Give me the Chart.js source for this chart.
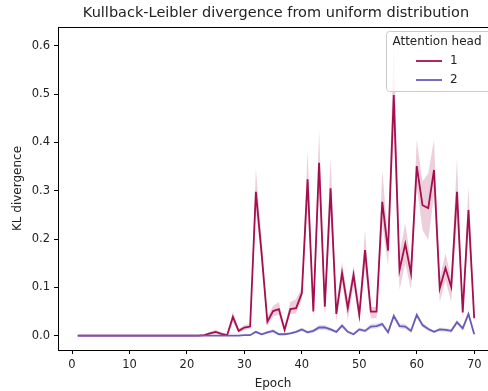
<!DOCTYPE html>
<html>
<head>
<meta charset="utf-8">
<script src="https://cdn.jsdelivr.net/npm/chart.js@4"></script>
<style>
  html, body { margin: 0; padding: 0; background: #fff; }
  #wrap { width: 488px; height: 391px; }
</style>
</head>
<body>
<div id="wrap"><canvas id="klChart" width="488" height="391"></canvas></div>
<script>
const epochs = [1,2,3,4,5,6,7,8,9,10,11,12,13,14,15,16,17,18,19,20,21,22,23,24,25,26,27,28,29,30,31,32,33,34,35,36,37,38,39,40,41,42,43,44,45,46,47,48,49,50,51,52,53,54,55,56,57,58,59,60,61,62,63,64,65,66,67,68,69,70];

const heads = ['1', '2'];

const head1Mean = [0,0,0,0,0,0,0,0,0,0, 0,0,0,0,0,0,0,0,0,0,
  0,0,0.001,0.005,0.008,0.004,0.001,0.039,0.010,0.017,
  0.019,0.298,0.170,0.029,0.051,0.055,0.012,0.055,0.057,0.088,
  0.324,0.050,0.358,0.060,0.305,0.045,0.130,0.057,0.126,0.043,
  0.177,0.050,0.050,0.277,0.176,0.498,0.136,0.190,0.129,0.351,
  0.270,0.264,0.343,0.098,0.140,0.101,0.298,0.048,0.260,0.036];
const head1Lower = [0,0,0,0,0,0,0,0,0,0, 0,0,0,0,0,0,0,0,0,0,
  0,0,0,0.002,0.004,0.002,0,0.028,0.006,0.012,
  0.014,0.262,0.150,0.020,0.040,0.043,0.006,0.045,0.046,0.075,
  0.270,0.038,0.300,0.040,0.250,0.029,0.110,0.032,0.105,0.030,
  0.140,0.036,0.036,0.230,0.146,0.430,0.095,0.150,0.095,0.310,
  0.219,0.198,0.290,0.070,0.115,0.070,0.240,0.039,0.210,0.030];
const head1Upper = [0,0,0,0,0,0,0,0,0,0, 0,0,0,0,0,0,0,0,0,0,
  0,0,0.002,0.008,0.012,0.007,0.003,0.050,0.014,0.022,
  0.024,0.345,0.200,0.040,0.062,0.070,0.020,0.070,0.076,0.100,
  0.384,0.065,0.426,0.075,0.370,0.060,0.153,0.075,0.146,0.060,
  0.219,0.060,0.060,0.343,0.200,0.610,0.170,0.233,0.150,0.405,
  0.319,0.336,0.405,0.120,0.170,0.120,0.367,0.065,0.308,0.045];

const head2Mean = [0,0,0,0,0,0,0,0,0,0, 0,0,0,0,0,0,0,0,0,0,
  0,0,0,0,0,0,0,0,0,0.001,
  0.001,0.008,0.003,0.007,0.010,0.003,0.003,0.005,0.008,0.013,
  0.007,0.010,0.017,0.017,0.013,0.008,0.021,0.008,0.003,0.013,
  0.010,0.019,0.020,0.024,0.007,0.041,0.020,0.019,0.010,0.043,
  0.022,0.014,0.008,0.013,0.012,0.010,0.028,0.015,0.045,0.003];
const head2Lower = [0,0,0,0,0,0,0,0,0,0, 0,0,0,0,0,0,0,0,0,0,
  0,0,0,0,0,0,0,0,0,0,
  0,0.005,0.001,0.004,0.006,0.001,0.001,0.003,0.005,0.009,
  0.004,0.006,0.012,0.012,0.009,0.005,0.016,0.005,0.001,0.009,
  0.006,0.014,0.015,0.019,0.004,0.035,0.015,0.014,0.006,0.037,
  0.017,0.010,0.005,0.009,0.008,0.006,0.023,0.010,0.038,0.001];
const head2Upper = [0,0,0,0,0,0,0,0,0,0, 0,0,0,0,0,0,0,0,0,0,
  0,0,0,0,0,0,0,0,0,0.002,
  0.002,0.011,0.005,0.010,0.014,0.005,0.005,0.007,0.011,0.017,
  0.010,0.014,0.022,0.022,0.017,0.011,0.026,0.011,0.005,0.017,
  0.014,0.024,0.025,0.029,0.010,0.047,0.025,0.024,0.014,0.049,
  0.027,0.018,0.011,0.017,0.016,0.014,0.033,0.020,0.052,0.005];

const xTicks = [0, 10, 20, 30, 40, 50, 60, 70];
const yTicks = [0.0, 0.1, 0.2, 0.3, 0.4, 0.5, 0.6];

const RED = '#a50f4f';
const BLUE = '#6a5bb7';
const FONT = 'DejaVu Sans';
const TEXT = '#222';
const TITLE = 'Kullback-Leibler divergence from uniform distribution';

const pts = arr => epochs.map((e, i) => ({ x: e, y: arr[i] }));

// matplotlib-style title over the axes, full frame, legend box in the upper right
const framePlugin = {
  id: 'frame',
  afterDraw(chart) {
    const { ctx, chartArea: a } = chart;
    ctx.save();
    ctx.strokeStyle = '#000';
    ctx.lineWidth = 1;
    ctx.strokeRect(Math.round(a.left) + 0.5, Math.round(a.top) + 0.5, Math.round(a.right - a.left), Math.round(a.bottom - a.top));

    // title, centred on the (uncropped) axes box
    ctx.fillStyle = TEXT;
    ctx.font = '14.5px ' + FONT;
    ctx.textAlign = 'center';
    ctx.textBaseline = 'middle';
    ctx.fillText(TITLE, 276, 13);

    // legend
    const bx = 386.5, by = 31.5, bw = 110, bh = 60;
    ctx.fillStyle = 'rgba(255,255,255,0.8)';
    ctx.strokeStyle = '#cccccc';
    ctx.beginPath();
    ctx.roundRect(bx, by, bw, bh, 3);
    ctx.fill();
    ctx.stroke();

    ctx.fillStyle = TEXT;
    ctx.font = '12px ' + FONT;
    ctx.textAlign = 'center';
    ctx.fillText('Attention head', 437, 42);

    const colors = [RED, BLUE];
    heads.forEach((h, i) => {
      const y = 61 + i * 19;
      ctx.strokeStyle = colors[i];
      ctx.lineWidth = 1.8;
      ctx.beginPath();
      ctx.moveTo(416, y);
      ctx.lineTo(442, y);
      ctx.stroke();
      ctx.fillStyle = TEXT;
      ctx.textAlign = 'left';
      ctx.fillText(h, 450, y);
    });
    ctx.restore();
  }
};

const ctx = document.getElementById('klChart').getContext('2d');
new Chart(ctx, {
  type: 'line',
  data: {
    datasets: [
      { data: pts(head1Upper), fill: '+1', backgroundColor: 'rgba(165,15,79,0.2)', borderWidth: 0, pointRadius: 0, order: 3 },
      { data: pts(head1Lower), fill: false, borderWidth: 0, pointRadius: 0, order: 3 },
      { data: pts(head2Upper), fill: '+1', backgroundColor: 'rgba(106,91,183,0.2)', borderWidth: 0, pointRadius: 0, order: 2 },
      { data: pts(head2Lower), fill: false, borderWidth: 0, pointRadius: 0, order: 2 },
      { label: heads[0], data: pts(head1Mean), borderColor: RED, borderWidth: 1.8, pointRadius: 0, fill: false, order: 1 },
      { label: heads[1], data: pts(head2Mean), borderColor: BLUE, borderWidth: 1.8, pointRadius: 0, fill: false, order: 0 }
    ]
  },
  options: {
    responsive: false,
    animation: false,
    devicePixelRatio: 1,
    layout: { padding: { top: 27, left: 0, right: 0, bottom: 0 } },
    elements: { line: { tension: 0 } },
    plugins: {
      legend: { display: false },
      tooltip: { enabled: false },
      title: { display: false }
    },
    scales: {
      x: {
        type: 'linear',
        min: -2.44,
        max: 72.4,
        afterFit: s => { s.height = 41; },
        afterBuildTicks: s => { s.ticks = xTicks.map(v => ({ value: v })); },
        ticks: { color: TEXT, font: { family: FONT, size: 11.5 }, padding: 4, maxRotation: 0, autoSkip: false },
        grid: { display: true, drawOnChartArea: false, drawTicks: true, tickLength: 4, color: '#000' },
        border: { display: true, color: '#000', width: 1 },
        title: { display: true, text: 'Epoch', color: TEXT, font: { family: FONT, size: 12 }, padding: { top: 3.5, bottom: 0 } }
      },
      y: {
        type: 'linear',
        min: -0.0296,
        max: 0.639,
        afterFit: s => { s.width = 58; },
        afterBuildTicks: s => { s.ticks = yTicks.map(v => ({ value: v })); },
        ticks: { color: TEXT, font: { family: FONT, size: 11.5 }, padding: 4, callback: v => v.toFixed(1) },
        grid: { display: true, drawOnChartArea: false, drawTicks: true, tickLength: 4, color: '#000' },
        border: { display: true, color: '#000', width: 1 },
        title: { display: true, text: 'KL divergence', color: TEXT, font: { family: FONT, size: 12 }, padding: { top: 11, bottom: 0 } }
      }
    }
  },
  plugins: [framePlugin]
});
</script>
</body>
</html>
